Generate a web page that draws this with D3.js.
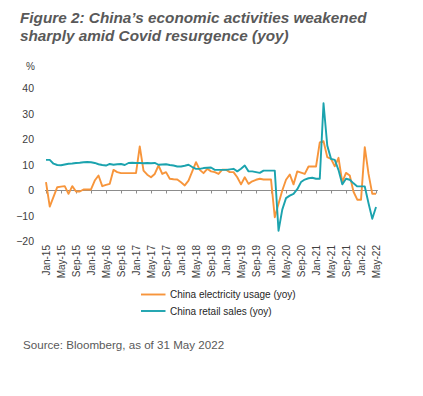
<!DOCTYPE html>
<html>
<head>
<meta charset="utf-8">
<script src="https://cdn.jsdelivr.net/npm/d3@7"></script>
<style>
  body { margin: 0; background: #fff; }
  svg text { font-family: "Liberation Sans", Arial, sans-serif; }
</style>
</head>
<body>
<div id="chart"></div>
<script>
/*
 * China electricity usage vs retail sales, monthly yoy %
 */

// months Jan-15 .. May-22
var months = d3.timeMonth.range(new Date(2015, 0, 1), new Date(2022, 5, 1));

var electricity = [
  3.3, -6.3, -2.5, 1.3, 1.5, 1.7, -1.3, 1.7, -0.4, -0.4, 0.4, 0.4,
  0.4, 3.9, 5.9, 1.7, 2.2, 2.6, 8.1, 7.2, 6.8, 6.8, 6.8, 6.8,
  6.8, 17.3, 7.8, 6.2, 5.2, 6.5, 9.8, 6.5, 7.2, 4.6, 4.4, 4.3,
  3.2, 2.0, 3.9, 7.5, 11.1, 8.1, 6.8, 8.5, 7.5, 7.2, 6.5, 8.2,
  8.2, 7.2, 7.2, 5.2, 2.4, 5.2, 2.6, 3.6, 4.2, 4.6, 4.3, 4.3,
  4.3, -10.5, -5.2, 0.0, 4.2, 6.3, 2.4, 7.5, 7.0, 6.5, 9.4, 9.4,
  9.4, 18.9, 19.3, 13.1, 12.4, 9.5, 12.8, 3.3, 6.9, 5.9, -0.5, -3.6,
  -3.6, 17.0, 6.5, -1.3, -1.3
];

var retail = [
  12.0, 12.0, 10.5, 10.0, 9.9, 10.2, 10.5, 10.6, 10.8, 10.9, 11.1, 11.2,
  11.1, 10.8, 10.3, 10.0, 9.8, 10.4, 10.1, 10.3, 10.4, 10.0, 10.8, 10.9,
  10.8, 10.8, 10.7, 10.8, 10.7, 10.8, 10.1, 10.2, 10.3, 10.0, 9.8, 9.4,
  9.4, 9.7, 10.1, 9.2, 8.5, 8.5, 8.8, 8.9, 9.0, 8.1, 8.1, 8.1,
  8.1, 8.3, 8.5, 7.5, 8.5, 9.8, 7.5, 7.5, 7.2, 6.9, 7.8, 7.8,
  7.8, 7.8, -15.8, -7.5, -3.0, -2.0, -1.3, 0.5, 3.3, 4.3, 4.8, 5.0,
  4.6, 4.6, 34.2, 17.6, 12.4, 12.0, 8.0, 2.4, 4.6, 4.2, 2.8, 1.6,
  1.6, 1.6, -5.0, -11.1, -6.5
];

var yTicks = [-20, -10, 0, 10, 20, 30, 40];
var xTickIdx = d3.range(0, months.length, 4);
var fmtMonth = d3.timeFormat("%b-%y");

var series = [
  { name: "China electricity usage (yoy)", values: electricity, color: "#f7953b" },
  { name: "China retail sales (yoy)", values: retail, color: "#1ba3ae" }
];

var W = 423, H = 396;

var svg = d3.select("#chart").append("svg")
  .attr("width", W).attr("height", H);

// title
var title = svg.append("text")
  .style("font-size", "15.3px").style("font-weight", "bold").style("font-style", "italic")
  .style("fill", "#595959");
title.append("tspan").attr("x", 20).attr("y", 23).text("Figure 2: China\u2019s economic activities weakened");
title.append("tspan").attr("x", 20).attr("y", 41).text("sharply amid Covid resurgence (yoy)");

var x = d3.scaleLinear().domain([0, 88.5]).range([46, 377.9]);
var y = d3.scaleLinear().domain([-20, 40]).range([241.5, 88.5]);

// y labels
svg.append("text").attr("x", 26).attr("y", 70)
  .style("font-size", "10px").style("fill", "#404040").text("%");

var yAxis = svg.append("g")
  .attr("transform", "translate(36,0)")
  .call(d3.axisLeft(y).tickValues(yTicks).tickSize(0).tickPadding(2));
yAxis.select(".domain").remove();
yAxis.selectAll("text").style("font-size", "10.5px").style("fill", "#404040")
  .style("font-family", "Liberation Sans, Arial, sans-serif");

// x axis on zero line
var xAxis = svg.append("g")
  .attr("transform", "translate(0," + y(0) + ")")
  .call(d3.axisBottom(x).tickValues(xTickIdx).tickSize(3).tickSizeOuter(0)
    .tickFormat(function(i){ return fmtMonth(months[i]); }));
xAxis.select(".domain").attr("d", "M" + (x(0) - 1) + ",0H" + x(88.5)).style("stroke", "#8c8c8c");
xAxis.selectAll(".tick line").style("stroke", "#8c8c8c");
xAxis.selectAll("text")
  .style("font-size", "10px").style("fill", "#404040")
  .style("font-family", "Liberation Sans, Arial, sans-serif")
  .attr("text-anchor", "end")
  .attr("transform", function(){ return "translate(0," + (245 - y(0)) + ") rotate(-90)"; })
  .attr("x", 0).attr("y", 0).attr("dy", "0.35em");

// lines
var line = d3.line()
  .x(function(d, i){ return x(i); })
  .y(function(d){ return y(d); });

series.forEach(function(s){
  svg.append("path")
    .datum(s.values)
    .attr("d", line)
    .style("fill", "none")
    .style("stroke", s.color)
    .style("stroke-width", 1.9)
    .style("stroke-linejoin", "round");
});

// legend
var legend = svg.append("g");
series.forEach(function(s, i){
  var ly = 294.5 + i * 16.5;
  legend.append("line").attr("x1", 141).attr("x2", 165.5).attr("y1", ly).attr("y2", ly)
    .style("stroke", s.color).style("stroke-width", 1.9);
  legend.append("text").attr("x", 170).attr("y", ly + 3.5)
    .style("font-size", "10px").style("fill", "#262626").text(s.name);
});

// source
svg.append("text").attr("x", 23).attr("y", 349)
  .style("font-size", "11.6px").style("fill", "#595959")
  .text("Source: Bloomberg, as of 31 May 2022");
</script>
</body>
</html>
